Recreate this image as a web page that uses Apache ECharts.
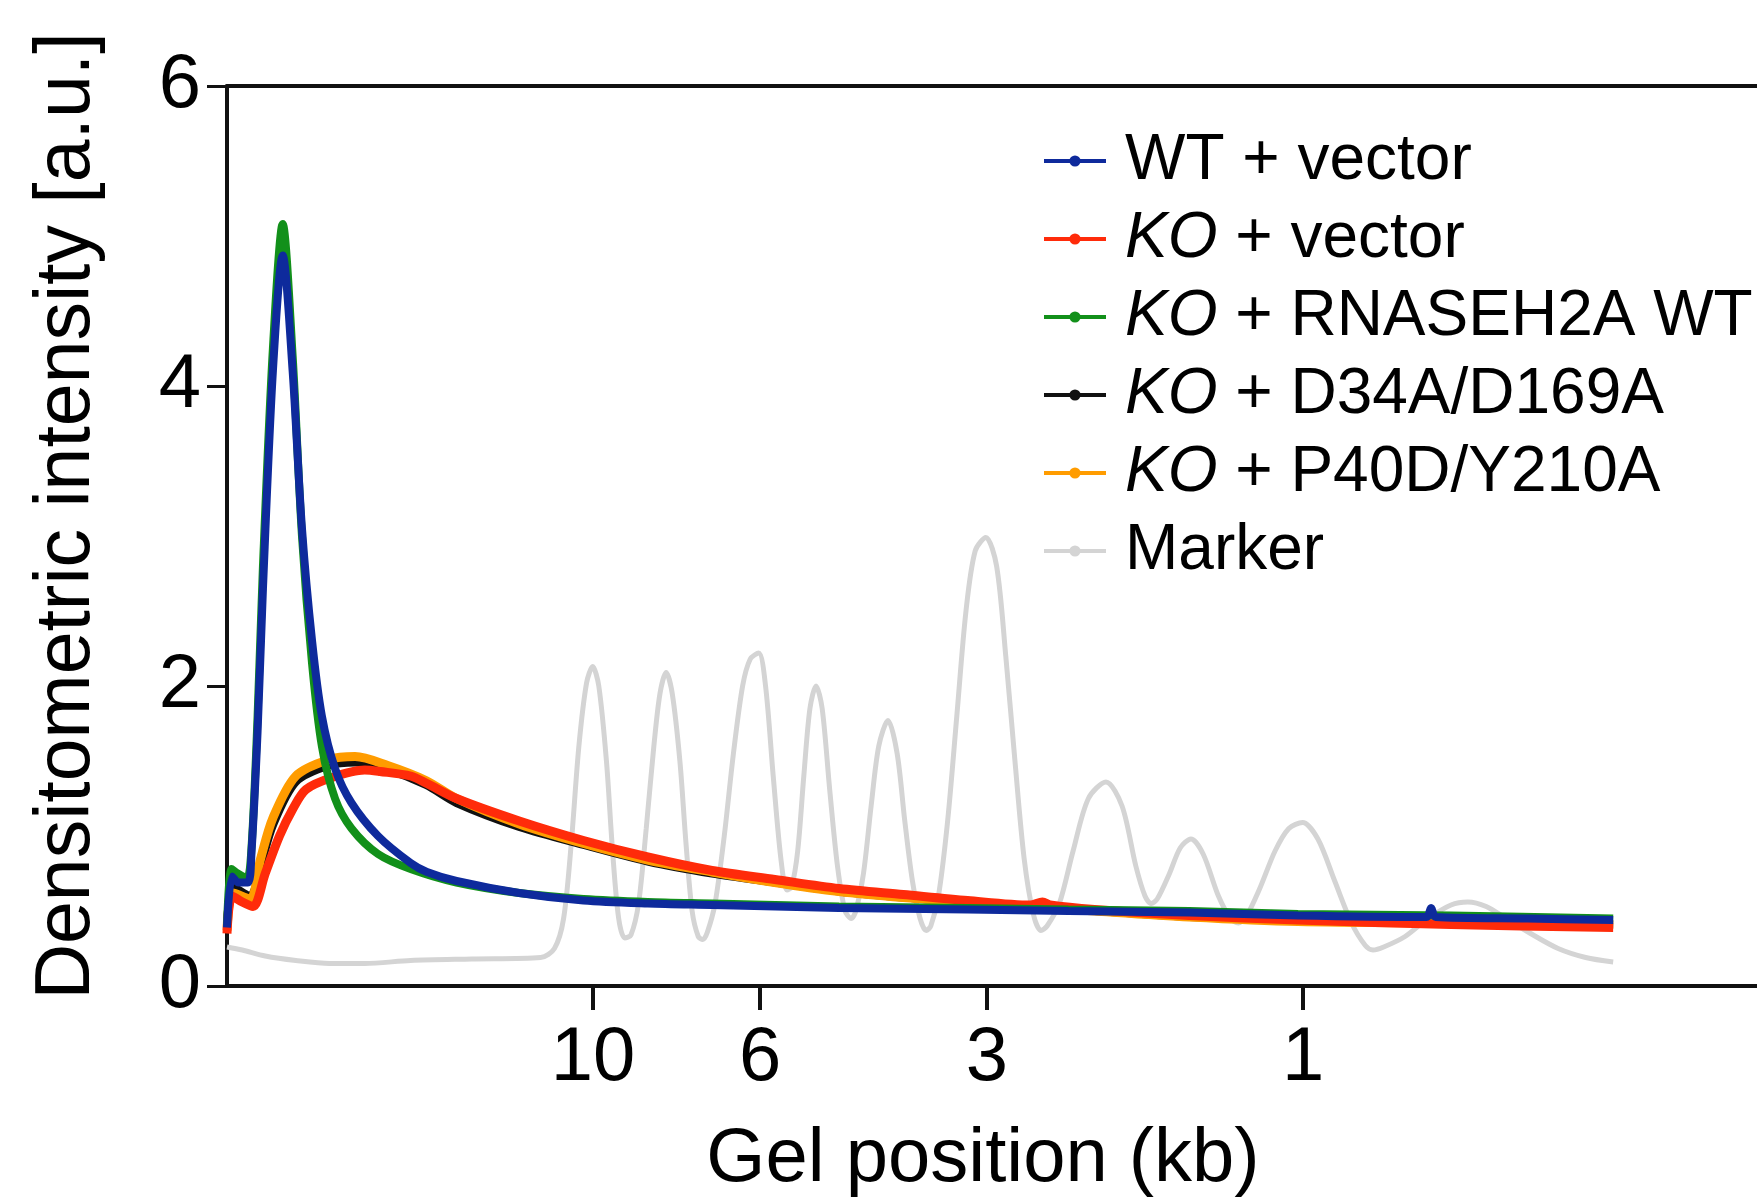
<!DOCTYPE html>
<html>
<head>
<meta charset="utf-8">
<title>Gel densitometry</title>
<script src="https://cdn.jsdelivr.net/npm/echarts@6/dist/echarts.min.js"></script>
<style>
  html, body { margin: 0; padding: 0; background: #fff; }
  #chart { width: 1757px; height: 1202px; }
</style>
</head>
<body>
<div id="chart"></div>
<script>
// gel position (arbitrary lane units, 0 = top of lane) -> marker size labels
var markerPos = [23.92, 34.84, 49.67, 70.33];
var markerKb = ['10', '6', '3', '1'];

// densitometric traces: [gel position, intensity]
var wtVector = [
  [0, 0.39], [0.33, 0.73], [0.75, 0.69], [1.37, 0.69], [1.6, 0.89], [2.0, 1.7], [2.35, 2.65], [3.0, 4.1],
  [3.64, 4.87], [4.29, 4.1], [4.9, 3.05], [5.56, 2.3], [6.2, 1.8], [7.06, 1.45], [8.14, 1.22],
  [9.87, 1.0], [12.0, 0.82], [13.07, 0.76], [15.0, 0.70], [19.1, 0.62], [23.3, 0.57], [27.5, 0.55],
  [31.7, 0.54], [40, 0.52], [48.4, 0.51], [55, 0.50], [62.9, 0.49], [70, 0.47], [78.4, 0.46],
  [78.7, 0.52], [79.0, 0.46], [85, 0.45], [90.6, 0.44]
];
var koVector = [
  [0, 0.35], [0.33, 0.60], [1.0, 0.56], [1.7, 0.53], [2.5, 0.75], [3.43, 1.0], [4.3, 1.18], [5.16, 1.31],
  [6.86, 1.39], [9.0, 1.44], [10.0, 1.43], [12.0, 1.40], [13.07, 1.35], [15.0, 1.25], [19.1, 1.10],
  [23.3, 0.97], [27.5, 0.86], [31.7, 0.77], [35.8, 0.71], [40, 0.65], [44.2, 0.61], [48.4, 0.57],
  [52.5, 0.54], [53.3, 0.56], [53.8, 0.54], [56.7, 0.51], [62.9, 0.47], [70, 0.44], [80, 0.41], [90.6, 0.39]
];
var koWt = [
  [0, 0.40], [0.3, 0.78], [0.7, 0.75], [1.3, 0.72], [1.6, 0.92], [2.0, 1.8], [2.35, 2.8], [3.0, 4.25],
  [3.64, 5.08], [4.29, 4.2], [4.9, 3.0], [5.56, 2.15], [6.2, 1.6], [7.06, 1.25], [8.14, 1.05],
  [9.87, 0.88], [12.0, 0.78], [15.0, 0.69], [19.1, 0.62], [23.3, 0.58], [27.5, 0.56], [31.7, 0.55],
  [40, 0.53], [48.4, 0.52], [55, 0.51], [62.9, 0.50], [70, 0.48], [80, 0.47], [90.6, 0.45]
];
var koD34A = [
  [0, 0.39], [0.4, 0.66], [1.5, 0.60], [2.2, 0.8], [3.0, 1.07], [4.5, 1.36], [6.67, 1.47], [8.37, 1.49],
  [10.26, 1.45], [13.0, 1.34], [15.0, 1.22], [19.1, 1.06], [23.3, 0.94], [27.5, 0.83], [31.7, 0.75],
  [35.8, 0.69], [40, 0.63], [44.2, 0.59], [48.4, 0.56], [52.5, 0.53], [56.7, 0.50], [62.9, 0.46],
  [70, 0.44], [80, 0.42], [90.6, 0.41]
];
var koP40D = [
  [0, 0.37], [0.4, 0.62], [1.5, 0.58], [2.2, 0.85], [3.0, 1.12], [4.5, 1.40], [6.67, 1.51], [8.37, 1.53],
  [10.5, 1.47], [13.0, 1.37], [15.0, 1.25], [19.1, 1.08], [23.3, 0.95], [27.5, 0.84], [31.7, 0.76],
  [35.8, 0.69], [40, 0.63], [44.2, 0.59], [48.4, 0.56], [52.5, 0.53], [56.7, 0.50], [62.9, 0.46],
  [70, 0.43], [80, 0.42], [90.6, 0.41]
];
var marker = [
  [0, 0.26], [1, 0.24], [2.5, 0.20], [4.5, 0.17], [6.7, 0.15], [9, 0.15], [12, 0.17], [16, 0.18],
  [20.5, 0.19], [21.4, 0.25],
  [22.0, 0.45], [22.5, 0.95], [23.0, 1.6], [23.5, 2.02], [23.9, 2.13], [24.3, 2.0], [24.8, 1.5],
  [25.2, 0.9], [25.6, 0.45], [26.0, 0.32], [26.4, 0.34],
  [26.9, 0.55], [27.4, 1.05], [27.9, 1.6], [28.3, 1.95], [28.7, 2.09], [29.1, 1.95], [29.6, 1.5],
  [30.0, 0.95], [30.4, 0.5], [30.8, 0.33], [31.1, 0.31], [31.4, 0.36],
  [31.9, 0.55], [32.5, 1.0], [33.1, 1.55], [33.7, 2.0], [34.2, 2.18], [34.75, 2.22], [35.2, 2.0],
  [35.7, 1.4], [36.2, 0.85], [36.6, 0.64], [36.9, 0.66],
  [37.3, 0.9], [37.7, 1.4], [38.1, 1.85], [38.5, 2.0], [38.9, 1.85], [39.4, 1.3], [39.9, 0.8],
  [40.4, 0.5], [40.8, 0.45], [41.1, 0.5],
  [41.6, 0.75], [42.1, 1.2], [42.6, 1.6], [43.2, 1.77], [43.8, 1.55], [44.3, 1.1], [44.8, 0.7],
  [45.3, 0.45], [45.7, 0.37], [46.0, 0.4],
  [46.5, 0.6], [47.1, 1.1], [47.7, 1.8], [48.3, 2.5], [48.9, 2.9], [49.6, 2.99], [50.3, 2.8],
  [50.9, 2.2], [51.5, 1.5], [52.1, 0.85], [52.7, 0.48], [53.2, 0.37], [53.6, 0.4],
  [54.4, 0.55], [55.3, 0.9], [56.3, 1.25], [57.45, 1.36], [58.5, 1.2], [59.4, 0.8], [60.0, 0.6],
  [60.4, 0.55], [60.8, 0.58],
  [61.6, 0.75], [62.3, 0.92], [63.0, 0.98], [63.8, 0.88], [64.8, 0.6], [65.6, 0.45], [66.1, 0.42], [66.6, 0.46],
  [67.5, 0.65], [68.5, 0.9], [69.4, 1.05], [70.3, 1.09], [71.3, 0.98], [72.4, 0.7], [73.5, 0.42],
  [74.4, 0.27], [74.9, 0.24], [75.6, 0.26],
  [77.0, 0.33], [78.5, 0.45], [80.0, 0.54], [81.1, 0.56], [82.3, 0.53], [83.6, 0.45], [85.2, 0.35],
  [87, 0.25], [88.8, 0.19], [90.6, 0.16]
];

var legendNames = ['WT + vector', 'KO + vector', 'KO + RNASEH2A WT', 'KO + D34A/D169A', 'KO + P40D/Y210A', 'Marker'];

var FONT = '"Liberation Sans", Arial, sans-serif';

var chart = echarts.init(document.getElementById('chart'));

// one line series
function trace(name, data, color, width, smooth) {
  return {
    name: name,
    type: 'line',
    data: data,
    smooth: smooth,
    symbol: 'circle',
    symbolSize: 3,
    showSymbol: false,
    silent: true,
    animation: false,
    itemStyle: { color: color },
    lineStyle: { color: color, width: width }
  };
}

var option = {
  backgroundColor: '#ffffff',
  animation: false,
  grid: {
    left: 227,
    right: 0,
    top: 86,
    bottom: 216,
    containLabel: false,
    outerBoundsMode: 'none'
  },
  legend: {
    data: legendNames,
    orient: 'vertical',
    left: 1037,
    top: 124,
    itemWidth: 62,
    itemHeight: 14,
    itemGap: 14,
    lineStyle: { width: 4 },
    formatter: function (name) {
      // KO is written in italics
      if (name.indexOf('KO') === 0) {
        return '{g|}{i|KO}{t|' + name.substring(2) + '}';
      }
      return '{g|}{t|' + name + '}';
    },
    textStyle: {
      fontFamily: FONT,
      fontSize: 64,
      color: '#000',
      rich: {
        g: { width: 14 },
        i: { fontFamily: FONT, fontSize: 64, fontStyle: 'italic', color: '#000', lineHeight: 66 },
        t: { fontFamily: FONT, fontSize: 64, color: '#000', lineHeight: 66 }
      }
    }
  },
  xAxis: [
    {
      type: 'value',
      min: 0,
      max: 100,
      name: 'Gel position (kb)',
      nameLocation: 'middle',
      nameGap: 136,
      nameTextStyle: { fontFamily: FONT, fontSize: 76, color: '#000', padding: [0, 18, 0, 0] },
      axisLine: { show: true, lineStyle: { color: '#111', width: 4 } },
      axisTick: { show: true, length: 24, customValues: markerPos, lineStyle: { color: '#111', width: 4 } },
      axisLabel: {
        show: true,
        margin: 35,
        customValues: markerPos,
        fontFamily: FONT,
        fontSize: 76,
        color: '#000',
        formatter: function (v) {
          for (var i = 0; i < markerPos.length; i++) {
            if (Math.abs(markerPos[i] - v) < 0.01) return markerKb[i];
          }
          return '';
        }
      },
      splitLine: { show: false }
    },
    {
      // top frame line
      type: 'value',
      position: 'top',
      min: 0,
      max: 100,
      axisLine: { show: true, lineStyle: { color: '#111', width: 4 } },
      axisTick: { show: false },
      axisLabel: { show: false },
      splitLine: { show: false }
    }
  ],
  yAxis: {
    type: 'value',
    min: 0,
    max: 6,
    interval: 2,
    name: 'Densitometric intensity [a.u.]',
    nameLocation: 'middle',
    nameGap: 121,
    nameTextStyle: { fontFamily: FONT, fontSize: 77, color: '#000', padding: [0, 0, 0, 40] },
    axisLine: { show: true, lineStyle: { color: '#111', width: 4 } },
    axisTick: { show: true, length: 20, lineStyle: { color: '#111', width: 3 } },
    axisLabel: { margin: 26, fontFamily: FONT, fontSize: 76, color: '#000' },
    splitLine: { show: false }
  },
  // drawing order: marker at the back, WT + vector on top
  series: [
    trace('Marker', marker, '#d4d4d4', 5, 0.3),
    trace('KO + D34A/D169A', koD34A, '#111111', 8, 0.3),
    trace('KO + P40D/Y210A', koP40D, '#ff9c00', 9, 0.3),
    trace('KO + vector', koVector, '#ff2b0a', 9, 0.3),
    trace('KO + RNASEH2A WT', koWt, '#12901a', 8, 0.3),
    trace('WT + vector', wtVector, '#0e2a9c', 8, 0.3)
  ]
};

chart.setOption(option);
</script>
</body>
</html>
